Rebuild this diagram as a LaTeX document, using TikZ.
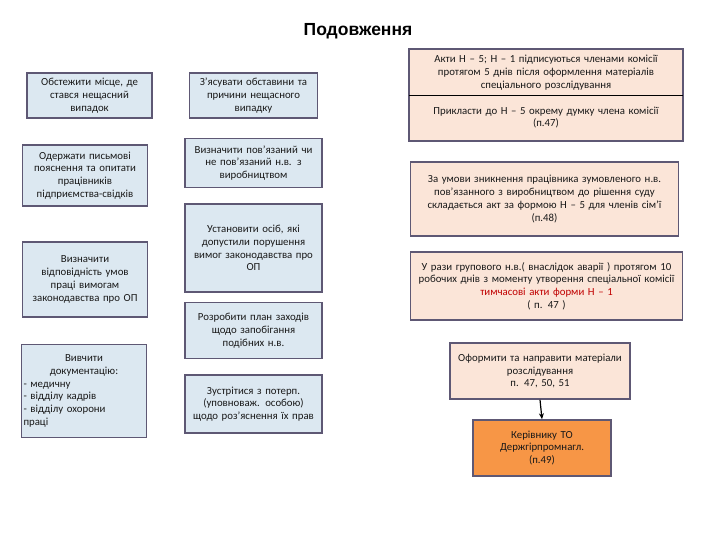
\documentclass[tikz,border=0pt]{standalone}
\usepackage{fontspec}
\setmainfont{Carlito}
\newfontfamily\titlefont{Liberation Sans}
\usetikzlibrary{arrows.meta}
\definecolor{bordc}{HTML}{5E5874}
\definecolor{blueb}{HTML}{DCE8F1}
\definecolor{peach}{HTML}{FBE5D8}
\definecolor{orng}{HTML}{F79646}
\definecolor{redt}{HTML}{C00000}
\begin{document}
\begin{tikzpicture}[x=1pt,y=-1pt,
  box/.style={draw=bordc, line width=1.6pt, inner sep=2pt, align=center,
    font=\fontsize{10.8}{12.8}\selectfont, text=black!90},
  bbox/.style={box, fill=blueb},
  pbox/.style={box, fill=peach},
  obox/.style={box, fill=orng},
  arr/.style={-{Stealth[length=6pt,width=5pt]}, line width=1.2pt, black}]
\useasboundingbox (0,0) rectangle (720,540);
\node[font=\titlefont\bfseries\fontsize{17.5}{19}\selectfont] (title) at (358,31) {Подовження};
% left column
\node[bbox, minimum width=125pt, minimum height=45pt, text width=121pt] (a1) at (89.5,95.5)
  {Обстежити місце, де\\ стався нещасний\\ випадок};
\node[bbox, minimum width=124pt, minimum height=61pt, text width=121pt] (a2) at (85,175.5)
  {Одержати письмові\\ пояснення та опитати\\ працівників\\ підприємства-свідків};
\node[bbox, minimum width=124pt, minimum height=75pt, text width=121pt] (a3) at (85,279.5)
  {Визначити\\ відповідність умов\\ праці вимогам\\ законодавства про ОП};
\node[bbox, minimum width=124pt, minimum height=93pt, text width=121pt, align=left] (a4) at (84,391)
  {{\centering Вивчити\\ документацію:\par}- медичну\\- відділу кадрів\\- відділу охорони\\праці};
% middle column
\node[bbox, minimum width=127pt, minimum height=45pt, text width=124pt] (b1) at (253.5,95.5)
  {З’ясувати обставини та\\ причини нещасного\\ випадку};
\node[bbox, minimum width=137pt, minimum height=49pt, text width=133pt] (b2) at (253.5,163)
  {Визначити пов’язаний чи\\ не пов’язаний н.в. з\\ виробництвом};
\node[bbox, minimum width=137pt, minimum height=88pt, text width=133pt] (b3) at (253.5,248)
  {Установити осіб, які\\ допустили порушення\\ вимог законодавства про\\ ОП};
\node[bbox, minimum width=137pt, minimum height=56pt, text width=133pt] (b4) at (253.5,330.5)
  {Розробити план заходів\\ щодо запобігання\\ подібних н.в.};
\node[bbox, minimum width=137pt, minimum height=58pt, text width=133pt] (b5) at (253.5,404)
  {Зустрітися з потерп.\\ (уповноваж. особою)\\ щодо роз’яснення їх прав};
% right column
\node[box, draw=none, fill=peach, minimum width=272pt, minimum height=45pt, text width=266pt] (c1a) at (546,72.5)
  {Акти Н – 5; Н – 1 підписуються членами комісії\\ протягом 5 днів після оформлення матеріалів\\ спеціального розслідування};
\node[box, draw=none, fill=peach, minimum width=272pt, minimum height=45pt, text width=266pt] (c1b) at (546,117.5)
  {Прикласти до Н – 5 окрему думку члена комісії\\ (п.47)};
\draw[bordc, line width=1.6pt] (c1a.north west) rectangle (c1b.south east);
\draw[black, line width=0.8pt] (c1a.south west) -- (c1a.south east);
\node[pbox, minimum width=267pt, minimum height=74pt, text width=264pt] (c2) at (544.5,199)
  {За умови зникнення працівника зумовленого н.в.\\ пов’язанного з виробництвом до рішення суду\\ складається акт за формою Н – 5 для членів сім’ї\\ (п.48)};
\node[pbox, minimum width=271pt, minimum height=68pt, text width=268pt] (c3) at (546.5,286)
  {У рази групового н.в.( внаслідок аварії )  протягом 10\\ робочих днів з моменту утворення спеціальної комісії\\ \textcolor{redt}{тимчасові акти форми Н – 1}\\ ( п. 47 )};
\node[pbox, minimum width=180pt, minimum height=56pt, text width=176pt] (c4) at (540,371)
  {Оформити та направити матеріали\\ розслідування\\ п. 47, 50, 51};
\node[obox, minimum width=138pt, minimum height=56pt, text width=134pt] (c5) at (542,448)
  {Керівнику ТО\\ Держгірпромнагл.\\ (п.49)};
\draw[arr] (c4.south) -- (c5.north);
\end{tikzpicture}
\end{document}
